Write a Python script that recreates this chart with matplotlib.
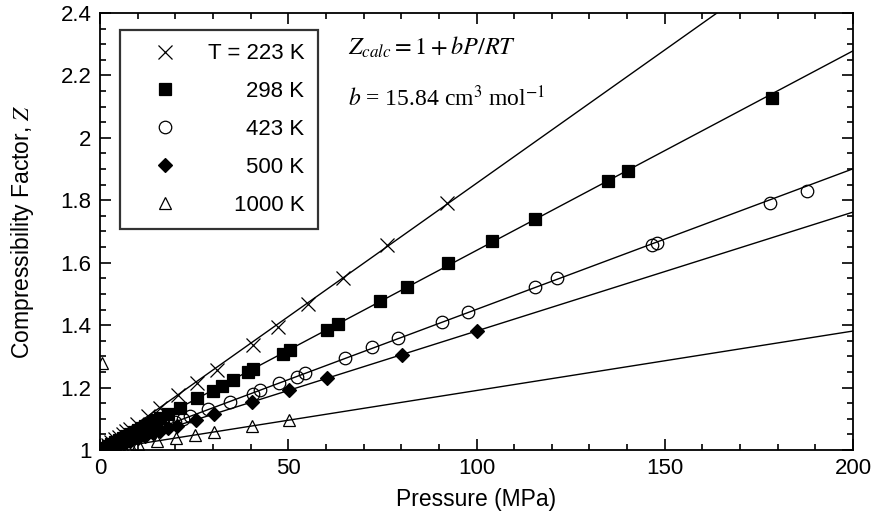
import numpy as np
import matplotlib
matplotlib.use('Agg')
import matplotlib.pyplot as plt
from matplotlib.ticker import MultipleLocator

plt.rcParams['font.family'] = 'Liberation Sans'
plt.rcParams['mathtext.fontset'] = 'stix'

## model line parameters
b = 15.84          # cm3/mol
R = 8.314
temps = [223, 298, 423, 500, 1000]
labels = ['T = 223 K', '298 K', '423 K', '500 K', '1000 K']

## data (P in MPa, Z)
p_223 = [0.5, 1, 2, 3, 4, 5, 6, 7, 8, 9.8, 12.8, 15.9, 20.8, 25.7, 31.0, 40.6, 47.3, 55.3, 64.5, 76.2, 92.2]
z_223 = [1.004, 1.009, 1.017, 1.026, 1.034, 1.043, 1.051, 1.060, 1.068, 1.082, 1.110, 1.135, 1.175, 1.215, 1.255, 1.335, 1.395, 1.468, 1.550, 1.657, 1.790]

p_298 = [0.5, 1, 2, 3, 4, 5, 6, 7, 8, 9, 10, 11, 12, 13, 14, 15, 16, 18, 21.2, 25.7, 30.0, 32.4, 35.3, 39.3,
         40.7, 48.6, 50.5, 60.2, 63.2, 74.4, 81.5, 92.4, 104, 115.5, 135, 140.2, 178.5]
z_298 = [1.003, 1.006, 1.013, 1.019, 1.026, 1.032, 1.038, 1.045, 1.051, 1.058, 1.064, 1.070, 1.077, 1.083, 1.090,
         1.096, 1.102, 1.115, 1.135, 1.165, 1.190, 1.205, 1.225, 1.250, 1.258, 1.308, 1.320, 1.383, 1.402, 1.478,
         1.522, 1.600, 1.668, 1.740, 1.862, 1.893, 2.128]

p_423 = [0.5, 1, 2, 3, 4, 5, 6, 7, 8, 10, 12, 14, 16, 18, 20, 22, 24, 28.7, 34.5, 40.6, 42.5, 47.5, 52.3, 54.4,
         65.1, 72.2, 79.2, 90.8, 97.7, 115.5, 121.4, 146.6, 148, 178, 187.8]
z_423 = [1.002, 1.005, 1.009, 1.013, 1.018, 1.022, 1.027, 1.031, 1.036, 1.045, 1.054, 1.063, 1.072, 1.081, 1.090,
         1.099, 1.108, 1.130, 1.155, 1.180, 1.192, 1.215, 1.235, 1.248, 1.295, 1.330, 1.360, 1.410, 1.442, 1.522,
         1.550, 1.658, 1.664, 1.790, 1.830]

p_500 = [0.5, 1, 2, 3, 4, 5, 6, 7, 8, 10, 12, 14, 16, 18, 20.4, 25.5, 30.3, 40.4, 50.3, 60.2, 80.2, 100.1]
z_500 = [1.002, 1.004, 1.008, 1.011, 1.015, 1.019, 1.023, 1.027, 1.030, 1.038, 1.046, 1.053, 1.061, 1.069, 1.078,
         1.097, 1.115, 1.154, 1.192, 1.230, 1.305, 1.380]

p_1000 = [0.5, 1, 2, 3, 4, 5, 6, 7, 8, 10.1, 15.1, 20.2, 25.2, 30.3, 40.4, 50.2]
z_1000 = [1.280, 1.002, 1.004, 1.006, 1.008, 1.010, 1.011, 1.013, 1.015, 1.019, 1.028, 1.038, 1.048, 1.058, 1.077, 1.095]

series = [(p_223, z_223, 'x', 'k', 9.5), (p_298, z_298, 's', 'k', 9), (p_423, z_423, 'o', 'none', 9),
          (p_500, z_500, 'D', 'k', 7.5), (p_1000, z_1000, '^', 'none', 9)]

fig = plt.figure(figsize=(8.75, 5.19), dpi=100)
ax = fig.add_axes([0.1143, 0.133, 0.8606, 0.842])

pp = np.linspace(0, 200, 201)
handles = []
for T, (p, z, m, fc, ms), lab in zip(temps, series, labels):
    ax.plot(pp, 1 + b * pp / (R * T), color='k', lw=1.0, zorder=1)
    h, = ax.plot(p, z, linestyle='none', marker=m, ms=ms, mfc=fc, mec='k', mew=0.9, zorder=2, label=lab)
    handles.append(h)

ax.set_xlim(0, 200)
ax.set_ylim(1, 2.4)
ax.xaxis.set_major_locator(MultipleLocator(50))
ax.xaxis.set_minor_locator(MultipleLocator(10))
ax.yaxis.set_minor_locator(MultipleLocator(0.05))
ax.set_yticks([1, 1.2, 1.4, 1.6, 1.8, 2, 2.2, 2.4])
ax.set_yticklabels(['1', '1.2', '1.4', '1.6', '1.8', '2', '2.2', '2.4'])
ax.tick_params(which='both', direction='in', top=True, right=True, labelsize=16, width=1.2, pad=6)
ax.tick_params(which='major', length=8)
ax.tick_params(which='minor', length=4)
for s in ax.spines.values():
    s.set_linewidth(1.3)

ax.set_xlabel('Pressure (MPa)', fontsize=16.5)
ax.set_ylabel('Compressibility Factor, $\\mathit{Z}$', fontsize=16.5)
ax.xaxis.set_label_coords(0.5, -0.087)
ax.yaxis.set_label_coords(-0.085, 0.5)

leg = ax.legend(handles=handles, loc='upper left', bbox_to_anchor=(0.0266, 0.961), borderaxespad=0,
                fontsize=16, frameon=True, fancybox=False, edgecolor='k', handlelength=2.85,
                handletextpad=0.5, labelspacing=0.76, borderpad=0.6, numpoints=1)
leg.get_frame().set_linewidth(1.6)

## right-align the legend labels
fig.canvas.draw()
rend = fig.canvas.get_renderer()
widths = [t.get_window_extent(rend).width for t in leg.get_texts()]
for t, w in zip(leg.get_texts(), widths):
    t.set_position((max(widths) - w, 0))

ax.text(0.329, 0.904, '$Z_{calc} = 1 + bP/RT$', transform=ax.transAxes, fontsize=17.5)
ax.text(0.329, 0.787, '$b$ = 15.84 cm$^3$ mol$^{-1}$', transform=ax.transAxes, fontsize=17,
        family='Liberation Serif')

fig.savefig('out.png', dpi=100)
